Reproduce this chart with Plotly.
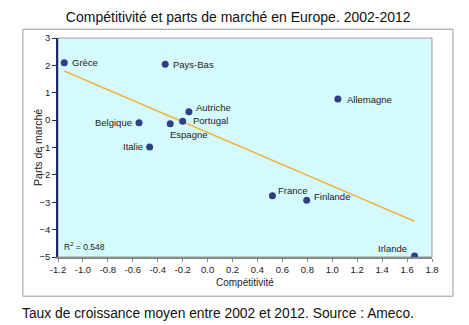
import numpy as np
import plotly.graph_objects as go

countries = ["Grèce", "Pays-Bas", "Autriche", "Portugal", "Espagne", "Belgique",
             "Italie", "Allemagne", "France", "Finlande", "Irlande"]
competitivite = [-1.15, -0.34, -0.15, -0.20, -0.30, -0.55, -0.465, 1.045, 0.52, 0.795, 1.66]
parts_marche = [2.10, 2.04, 0.31, -0.04, -0.13, -0.10, -0.98, 0.77, -2.76, -2.93, -4.96]
x_ticks = [-1.2, -1.0, -0.8, -0.6, -0.4, -0.2, 0.0, 0.2, 0.4, 0.6, 0.8, 1.0, 1.2, 1.4, 1.6, 1.8]
y_ticks = [3, 2, 1, 0, -1, -2, -3, -4, -5]

# label placement: (xanchor, xshift, yshift)
label_pos = {
    "Grèce": ("left", 6, 0), "Pays-Bas": ("left", 6, 0), "Autriche": ("left", 5, 4),
    "Portugal": ("left", 8, 1), "Espagne": ("left", -2, -11), "Belgique": ("right", -5, 0),
    "Italie": ("right", -5, 0), "Allemagne": ("left", 7, 0), "France": ("left", 4, 5),
    "Finlande": ("left", 5, 4), "Irlande": ("right", -6, 7),
}

FONT = "Liberation Sans, Arial, Helvetica, sans-serif"
slope, intercept = np.polyfit(competitivite, parts_marche, 1)
xl = np.array([min(competitivite), max(competitivite)])

fig = go.Figure()
fig.add_trace(go.Scatter(x=xl, y=slope * xl + intercept, mode="lines",
                         line=dict(color="#F2B24A", width=1.5), hoverinfo="skip"))
fig.add_trace(go.Scatter(x=competitivite, y=parts_marche, mode="markers",
                         marker=dict(color="#2F3F85", size=7), text=countries))

for c, xv, yv in zip(countries, competitivite, parts_marche):
    anc, xs, ys = label_pos[c]
    fig.add_annotation(x=xv, y=yv, text=c, showarrow=False, xanchor=anc, yanchor="middle",
                       xshift=xs, yshift=ys, font=dict(family=FONT, size=9.5, color="#222"))

fig.add_annotation(x=-1.17, y=-4.62, xref="x", yref="y", text="R<sup>2</sup> = 0.548",
                   showarrow=False, xanchor="left", yanchor="middle",
                   font=dict(family=FONT, size=8.5, color="#222"))

# outer frame
fig.add_shape(type="rect", xref="paper", yref="paper", x0=-0.094, x1=1.056, y0=-0.179, y1=1.04,
              line=dict(color="#999", width=1))
# plot border (top/right gray)
fig.add_shape(type="rect", xref="paper", yref="paper", x0=0, x1=1, y0=0, y1=1,
              line=dict(color="#9a9a9a", width=1), layer="below")

fig.add_annotation(x=0.5, y=-0.115, xref="paper", yref="paper", text="Compétitivité",
                   showarrow=False, xanchor="center", yanchor="middle",
                   font=dict(family=FONT, size=10, color="#222"))
fig.add_annotation(x=-0.055, y=0.5, xref="paper", yref="paper", text="Parts de marché",
                   showarrow=False, textangle=-90, xanchor="center", yanchor="middle",
                   font=dict(family=FONT, size=10.5, color="#222"))

fig.update_layout(
    width=469, height=325,
    margin=dict(l=58, r=37, t=38, b=68),
    paper_bgcolor="white", plot_bgcolor="#D4FAFC",
    showlegend=False,
    title=dict(text="Compétitivité et parts de marché en Europe. 2002-2012",
               x=0.508, xanchor="center", y=0.948, yanchor="middle",
               font=dict(family=FONT, size=14, color="#111")),
    font=dict(family=FONT),
)
fig.add_annotation(x=-0.094, y=-0.26, xref="paper", yref="paper",
                   text="Taux de croissance moyen entre 2002 et 2012. Source : Ameco.",
                   showarrow=False, xanchor="left", yanchor="middle", xshift=-3,
                   font=dict(family=FONT, size=13.8, color="#111"))

fig.update_xaxes(range=[-1.2, 1.8], tickvals=x_ticks, ticktext=[f"{v:.1f}" for v in x_ticks],
                 showgrid=False, zeroline=False, showline=True, linecolor="#8a8a8a", linewidth=1.5,
                 ticks="outside", ticklen=3, tickcolor="#8a8a8a",
                 tickfont=dict(family=FONT, size=9.5, color="#222"))
fig.update_yaxes(range=[-5, 3], tickvals=y_ticks, showgrid=False, zeroline=False,
                 showline=True, linecolor="#1F2A6B", linewidth=1.5,
                 ticks="outside", ticklen=4, tickcolor="#1F2A6B",
                 tickfont=dict(family=FONT, size=9.5, color="#222"))

fig.write_html("out.html")
